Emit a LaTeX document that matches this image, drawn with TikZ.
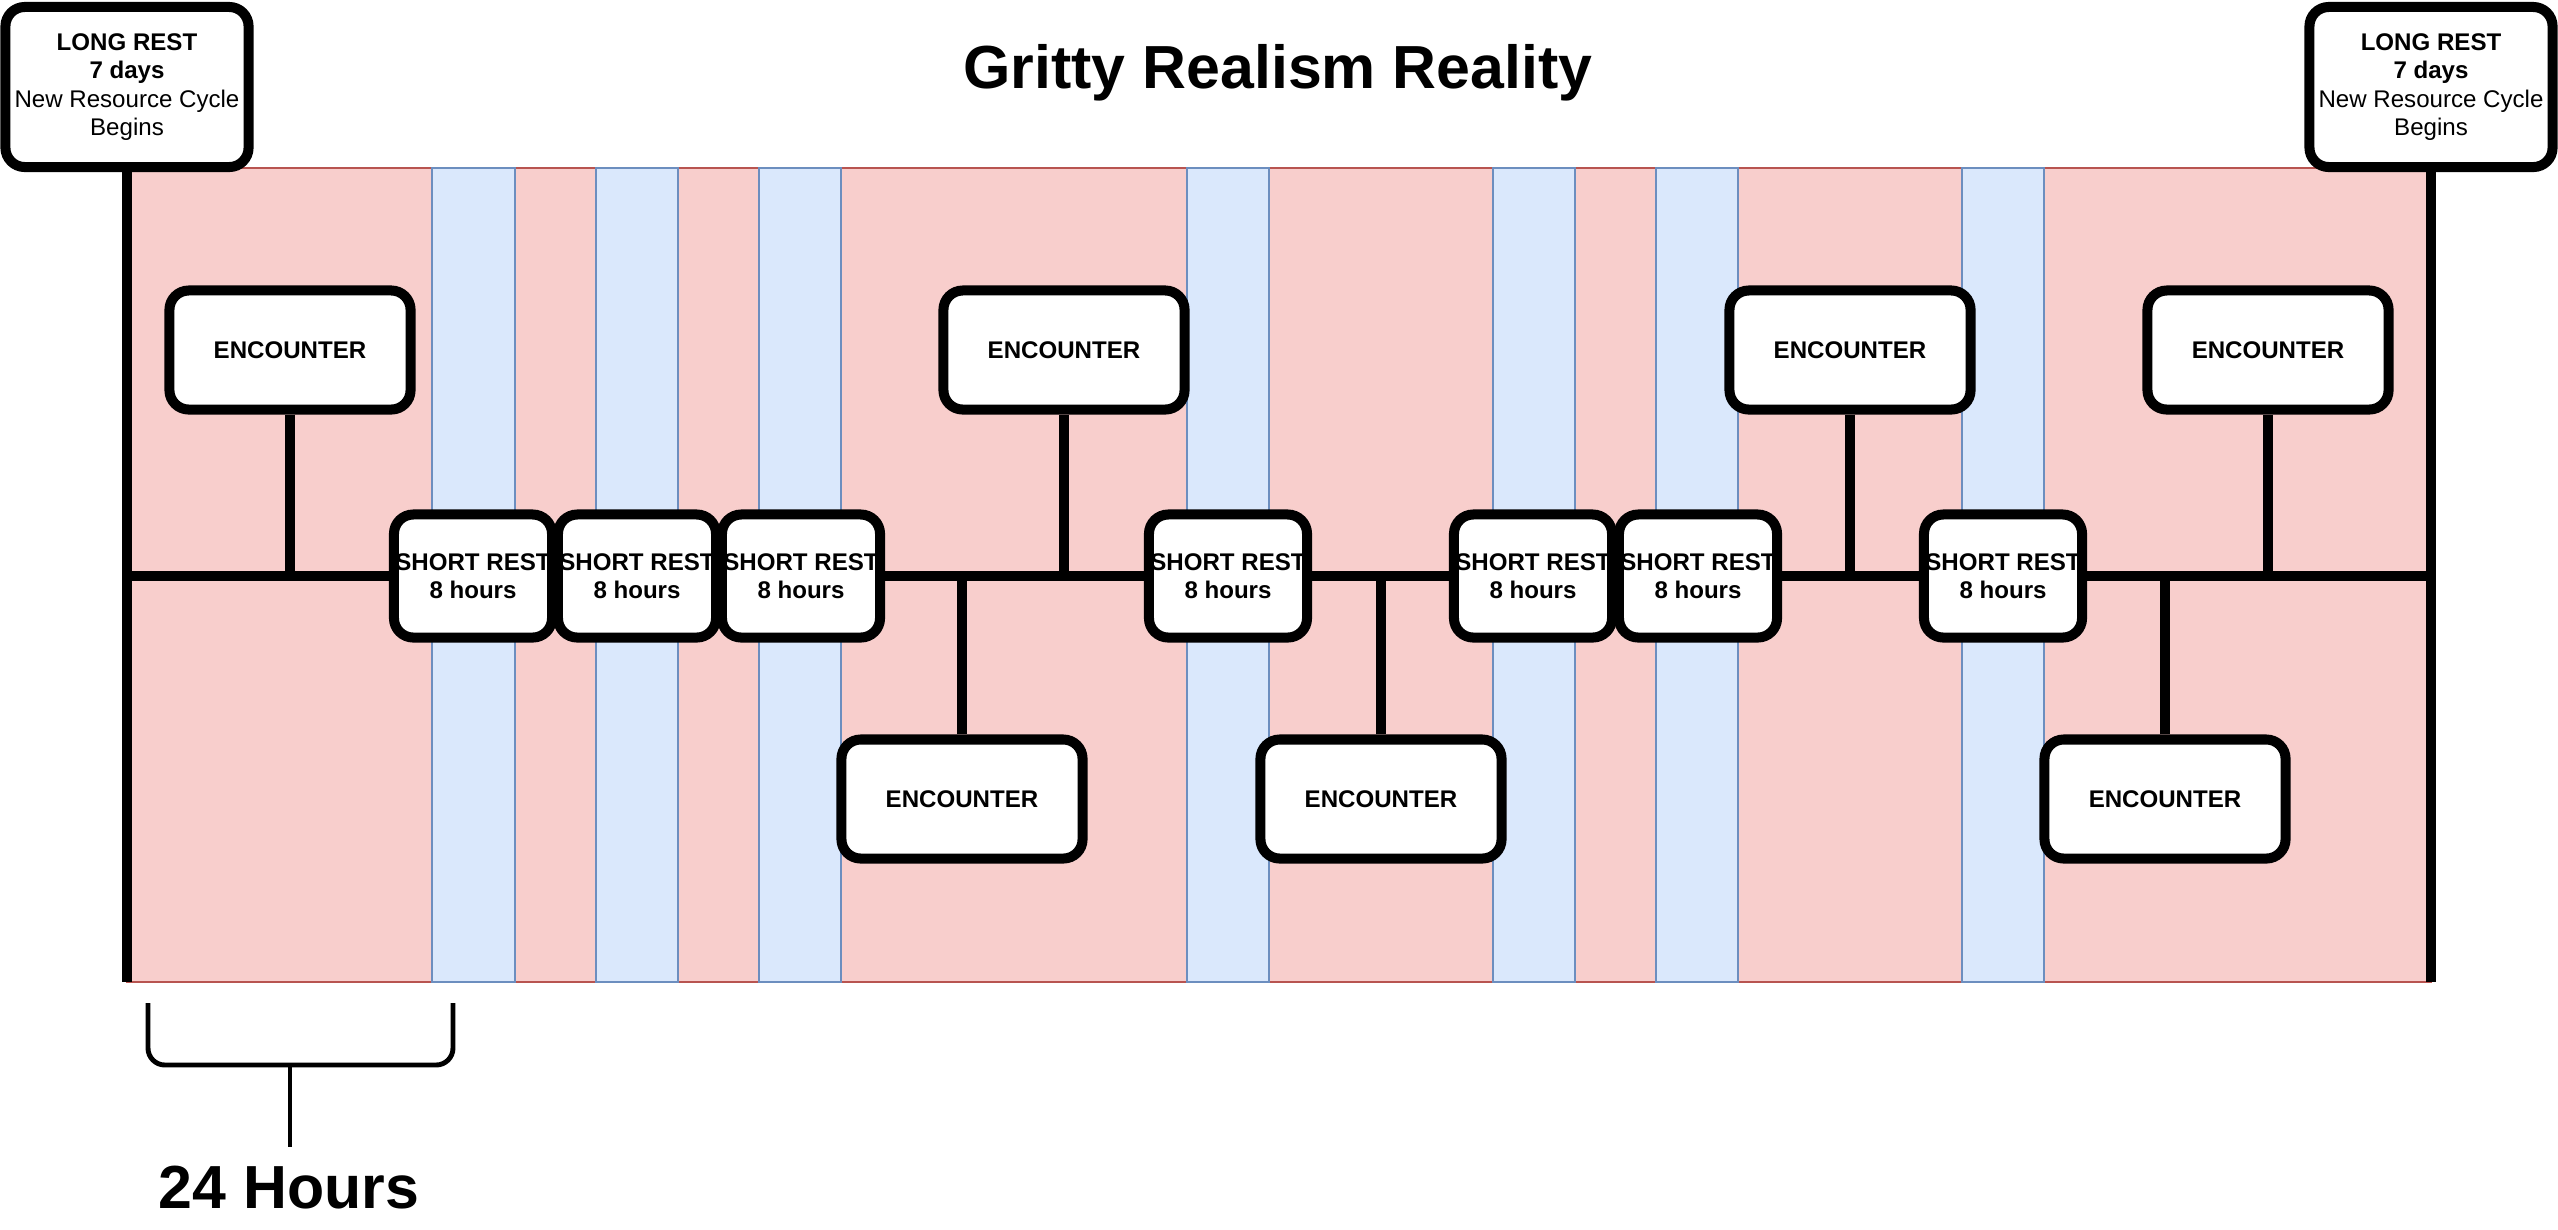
\documentclass[tikz,border=0pt]{standalone}
\usepackage{fontspec}
\setmainfont{Liberation Sans}
\definecolor{pinkfill}{HTML}{F8CECC}
\definecolor{pinkline}{HTML}{B85450}
\definecolor{bluefill}{HTML}{DAE8FC}
\definecolor{blueline}{HTML}{6C8EBF}
\tikzset{
  box/.style={draw, line width=2.85pt, rounded corners=5.5pt, fill=white, align=center, inner sep=0pt,
    font=\fontsize{6.85}{8.1}\selectfont},
  enc/.style={box, minimum width=2.41cm, minimum height=1.19cm, font=\fontsize{6.85}{8.1}\selectfont\bfseries},
  srest/.style={box, minimum width=1.58cm, minimum height=1.23cm, font=\fontsize{6.85}{8.1}\selectfont\bfseries},
  lrest/.style={box, minimum width=2.43cm, minimum height=1.6cm},
  pinkcol/.style={fill=pinkfill, draw=pinkline, line width=0.5pt},
  bluecol/.style={fill=bluefill, draw=blueline, line width=0.5pt},
  conn/.style={line width=2.85pt},
  brace/.style={line width=1.4pt, rounded corners=4.8pt},
  big/.style={font=\fontsize{17.3}{20}\selectfont\bfseries, inner sep=0pt}
}
\begin{document}
\begin{tikzpicture}[x=0.01cm, y=-0.01cm]
\useasboundingbox (0,0) rectangle (2558,1229);
% band columns
\foreach \a/\b in {127/432, 515/596, 678/759, 841/1187, 1269/1493, 1575/1656, 1738/1962, 2044/2431}
  \draw[pinkcol] (\a,168) rectangle (\b,982);
\foreach \a/\b in {432/515, 596/678, 759/841, 1187/1269, 1493/1575, 1656/1738, 1962/2044}
  \draw[bluecol] (\a,168) rectangle (\b,982);
% coordinates
\coordinate (hl) at (127,576);
\coordinate (hr) at (2431,576);
\coordinate (bl) at (127,982);
\coordinate (br) at (2431,982);
% title
\node[big, anchor=base] (title) at (1278,88) {Gritty Realism Reality};
% long rests
\node[lrest] (lrL) at (127,87) {\textbf{LONG REST}\\\textbf{7 days}\\New Resource Cycle\\Begins};
\node[lrest] (lrR) at (2431,87) {\textbf{LONG REST}\\\textbf{7 days}\\New Resource Cycle\\Begins};
% short rests
\node[srest] (s1) at (473,576) {SHORT REST\\8 hours};
\node[srest] (s2) at (637,576) {SHORT REST\\8 hours};
\node[srest] (s3) at (801,576) {SHORT REST\\8 hours};
\node[srest] (s4) at (1228,576) {SHORT REST\\8 hours};
\node[srest] (s5) at (1533,576) {SHORT REST\\8 hours};
\node[srest] (s6) at (1698,576) {SHORT REST\\8 hours};
\node[srest] (s7) at (2003,576) {SHORT REST\\8 hours};
% encounters
\node[enc] (e1) at (290,350) {ENCOUNTER};
\node[enc] (e2) at (1064,350) {ENCOUNTER};
\node[enc] (e3) at (1850,350) {ENCOUNTER};
\node[enc] (e4) at (2268,350) {ENCOUNTER};
\node[enc] (e5) at (962,799) {ENCOUNTER};
\node[enc] (e6) at (1381,799) {ENCOUNTER};
\node[enc] (e7) at (2165,799) {ENCOUNTER};
% timeline
\draw[conn] (lrL.south) -- (bl);
\draw[conn] (lrR.south) -- (br);
\draw[conn] (hl) -- (s1.west);
\draw[conn] (s3.east) -- (s4.west);
\draw[conn] (s4.east) -- (s5.west);
\draw[conn] (s6.east) -- (s7.west);
\draw[conn] (s7.east) -- (hr);
\foreach \e in {e1,e2,e3,e4}
  \draw[conn] (\e.south) -- (\e.south |- hl);
\foreach \e in {e5,e6,e7}
  \draw[conn] (\e.north) -- (\e.north |- hl);
% 24 hours bracket
\node[big, anchor=base] (hrs) at (289,1208) {24 Hours};
\coordinate (bm) at (290,1065);
\coordinate (bt) at (290,1147);
\draw[brace] (148,1003) -- (148,1065) -- (453,1065) -- (453,1003);
\draw[line width=1.4pt] (bm) -- (bt);
\end{tikzpicture}
\end{document}
